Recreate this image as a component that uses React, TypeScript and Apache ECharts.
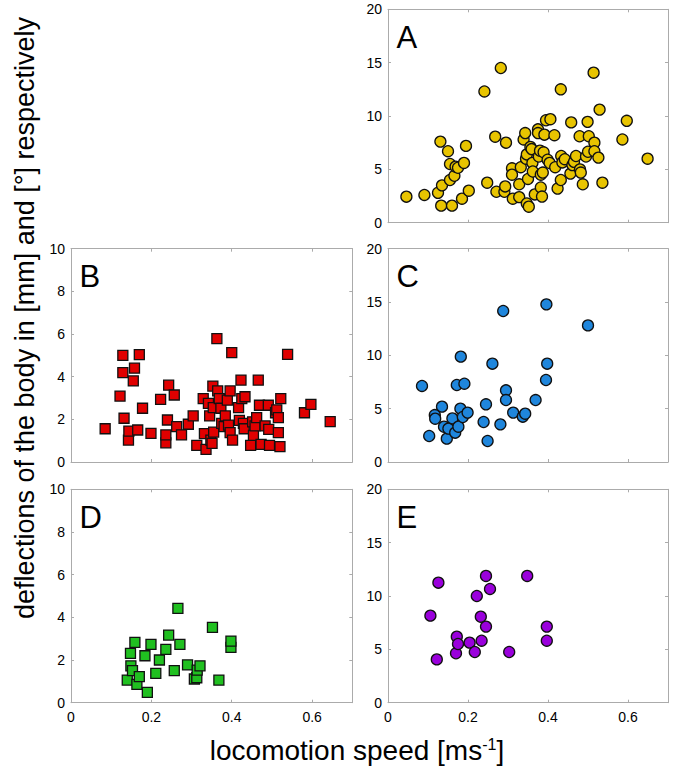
import React, { useEffect, useRef } from "react";
import * as echarts from "echarts";

// Panel A: circles, yellow (speed [m/s], deflection)
const panelA: [number, number][] = [
  [0.046, 2.44], [0.091, 2.6], [0.125, 2.8], [0.131, 7.6], [0.133, 1.6], [0.135, 3.5],
  [0.15, 6.7], [0.155, 4.0], [0.155, 5.5], [0.16, 1.6], [0.166, 4.4], [0.169, 5.25],
  [0.175, 5.15], [0.185, 2.25], [0.19, 5.6], [0.195, 7.2], [0.202, 3.0], [0.241, 12.3],
  [0.248, 3.75], [0.268, 8.06], [0.271, 2.9], [0.282, 14.5], [0.291, 2.9], [0.293, 3.4],
  [0.295, 7.5], [0.31, 5.1], [0.31, 4.5], [0.312, 2.25], [0.328, 2.4], [0.328, 3.6],
  [0.332, 5.2], [0.339, 7.8], [0.343, 8.4], [0.345, 6.0], [0.347, 6.4], [0.347, 1.8],
  [0.35, 4.1], [0.352, 1.5], [0.356, 7.1], [0.359, 6.9], [0.361, 5.6], [0.362, 4.8],
  [0.367, 2.65], [0.375, 8.75], [0.375, 8.4], [0.377, 6.2], [0.38, 6.75], [0.382, 3.3],
  [0.382, 4.5], [0.385, 2.45], [0.387, 4.7], [0.389, 6.6], [0.391, 8.25], [0.395, 9.6],
  [0.399, 5.9], [0.404, 5.6], [0.406, 9.7], [0.416, 8.2], [0.418, 5.2], [0.424, 3.2],
  [0.432, 12.5], [0.432, 4.0], [0.433, 6.25], [0.436, 5.65], [0.442, 5.95], [0.456, 4.6],
  [0.458, 9.4], [0.461, 5.4], [0.465, 5.7], [0.47, 6.25], [0.479, 8.1], [0.48, 5.0],
  [0.482, 4.7], [0.487, 3.6], [0.495, 6.2], [0.499, 9.45], [0.5, 6.65], [0.502, 8.1],
  [0.514, 14.06], [0.516, 7.5], [0.516, 6.7], [0.526, 6.1], [0.529, 10.6], [0.536, 3.75],
  [0.586, 7.8], [0.597, 9.55], [0.649, 6.0],
];

// Panel B: squares, red
const panelB: [number, number][] = [
  [0.085, 1.56], [0.122, 3.09], [0.129, 5.0], [0.129, 4.19], [0.132, 2.05], [0.143, 1.03],
  [0.144, 1.45], [0.155, 3.8], [0.158, 4.4], [0.166, 1.5], [0.17, 5.03], [0.178, 2.52],
  [0.199, 1.34], [0.223, 2.94], [0.236, 0.9], [0.236, 1.27], [0.24, 1.97], [0.243, 3.6],
  [0.257, 3.14], [0.263, 1.66], [0.275, 1.27], [0.292, 1.77], [0.304, 2.16], [0.313, 0.78],
  [0.329, 2.97], [0.332, 1.33], [0.336, 0.59], [0.342, 2.75], [0.345, 2.16], [0.348, 1.03],
  [0.351, 0.875], [0.353, 3.56], [0.354, 2.55], [0.355, 1.4], [0.363, 5.78], [0.365, 3.33],
  [0.369, 2.97], [0.373, 2.52], [0.375, 1.81], [0.381, 1.66], [0.384, 2.16], [0.389, 2.9],
  [0.392, 1.73], [0.396, 3.33], [0.396, 1.38], [0.4, 5.13], [0.402, 1.03], [0.417, 2.55],
  [0.419, 1.95], [0.423, 3.84], [0.425, 2.97], [0.429, 1.81], [0.431, 1.56], [0.433, 3.06],
  [0.447, 0.78], [0.452, 1.88], [0.454, 1.25], [0.458, 1.69], [0.462, 2.08], [0.466, 3.84],
  [0.469, 2.66], [0.473, 0.83], [0.483, 1.69], [0.491, 2.66], [0.492, 1.53], [0.494, 0.78],
  [0.509, 2.31], [0.512, 2.44], [0.516, 2.08], [0.516, 1.38], [0.52, 0.72], [0.522, 2.97],
  [0.539, 5.05], [0.581, 2.31], [0.597, 2.7], [0.645, 1.89],
];

// Panel C: circles, blue
const panelC: [number, number][] = [
  [0.085, 7.13], [0.103, 2.44], [0.117, 4.4], [0.118, 4.06], [0.135, 5.19], [0.14, 3.31],
  [0.147, 2.19], [0.151, 3.13], [0.161, 4.09], [0.168, 2.75], [0.172, 7.22], [0.176, 3.31],
  [0.181, 5.0], [0.182, 9.88], [0.187, 4.22], [0.191, 7.34], [0.199, 4.63], [0.239, 3.75],
  [0.245, 5.41], [0.249, 1.97], [0.261, 9.22], [0.281, 3.53], [0.288, 14.16], [0.295, 6.72],
  [0.295, 5.81], [0.313, 4.63], [0.337, 4.25], [0.343, 4.53], [0.369, 5.81], [0.395, 7.69],
  [0.396, 14.78], [0.398, 9.22], [0.5, 12.81],
];

// Panel D: squares, green
const panelD: [number, number][] = [
  [0.14, 1.06], [0.148, 2.31], [0.149, 1.73], [0.153, 1.5], [0.159, 2.83], [0.164, 0.86],
  [0.17, 1.22], [0.184, 2.2], [0.19, 0.48], [0.199, 2.73], [0.211, 1.375], [0.22, 2.0],
  [0.236, 2.5], [0.243, 3.17], [0.257, 1.5], [0.266, 4.42], [0.271, 2.73], [0.29, 1.77],
  [0.307, 1.11], [0.313, 1.17], [0.314, 1.53], [0.321, 1.73], [0.352, 3.53], [0.368, 1.06],
  [0.398, 2.59], [0.398, 2.89],
];

// Panel E: circles, purple
const panelE: [number, number][] = [
  [0.106, 8.16], [0.122, 4.06], [0.126, 11.25], [0.17, 4.63], [0.172, 6.19], [0.175, 5.5],
  [0.204, 5.63], [0.217, 4.75], [0.222, 10.0], [0.232, 8.06], [0.234, 5.81], [0.245, 11.88],
  [0.245, 7.13], [0.255, 10.66], [0.303, 4.75], [0.348, 11.88], [0.397, 7.13], [0.397, 5.81],
];

const panelLetters = ["A", "B", "C", "D", "E"];
const xTicks = [0, 0.2, 0.4, 0.6];
const yMaxes = [20, 10, 20, 10, 20];
const yIntervals = [5, 2, 5, 2, 5];
const xTitle = "locomotion speed [ms";
const xTitleSup = "-1";
const yTitle = "deflections of the body in [mm] and [°] respectively";

const FONT = "'Liberation Sans', Arial, sans-serif";
const AXC = "#ababab";

export default function App() {
  const ref = useRef<HTMLDivElement>(null);
  useEffect(() => {
    if (!ref.current) return;
    const chart = echarts.init(ref.current, undefined, { renderer: "svg" });

    const grids = [
      { left: 388, top: 9.3, width: 280, height: 213.4 },
      { left: 71, top: 248.7, width: 281.3, height: 213.3 },
      { left: 388, top: 248.7, width: 280, height: 213.3 },
      { left: 71, top: 489.3, width: 281.3, height: 213.4 },
      { left: 388, top: 489.3, width: 280, height: 213.4 },
    ];
    const showX = [false, false, false, true, true];

    const xAxes: any[] = [];
    const yAxes: any[] = [];
    grids.forEach((g, i) => {
      const base = {
        gridIndex: i,
        type: "value",
        splitLine: { show: false },
        axisLine: { show: true, onZero: false, lineStyle: { color: AXC, width: 1 } },
        axisTick: { show: true, inside: true, length: 3, lineStyle: { color: AXC } },
      };
      const xl = {
        ...base,
        min: 0,
        max: 0.7,
        interval: 0.2,
      };
      xAxes.push({
        ...xl,
        position: "bottom",
        axisLabel: {
          show: showX[i],
          showMaxLabel: false,
          color: "#000",
          fontSize: 14,
          fontFamily: FONT,
          margin: 7,
          formatter: (v: number) => {
            const r = Math.round(v * 10) / 10;
            return xTicks.includes(r) ? String(r) : "";
          },
        },
      });
      xAxes.push({ ...xl, position: "top", axisLabel: { show: false } });
      const yl = { ...base, min: 0, max: yMaxes[i], interval: yIntervals[i] };
      yAxes.push({
        ...yl,
        position: "left",
        axisLabel: { show: true, color: "#000", fontSize: 14, fontFamily: FONT, margin: 6 },
      });
      yAxes.push({ ...yl, position: "right", axisLabel: { show: false } });
    });

    const datasets = [panelA, panelB, panelC, panelD, panelE];
    const colors = ["#e8c400", "#e00000", "#1f86dc", "#20c020", "#9a00dc"];
    const symbols = ["circle", "rect", "circle", "rect", "circle"];

    const series = datasets.map((d, i) => ({
      type: "scatter",
      xAxisIndex: 2 * i,
      yAxisIndex: 2 * i,
      data: d,
      symbol: symbols[i],
      symbolSize: symbols[i] === "circle" ? 11 : 10,
      itemStyle: {
        color: colors[i],
        borderColor: "#111",
        borderWidth: 1.3,
        opacity: 1,
      },
      emphasis: { disabled: true },
    }));

    const letterEls = grids.map((g, i) => ({
      type: "text",
      x: g.left + 8.5,
      y: g.top + 28,
      style: {
        text: panelLetters[i],
        fontSize: 31,
        fontFamily: FONT,
        fill: "#000",
        align: "left",
        verticalAlign: "middle",
      },
    }));

    chart.setOption({
      animation: false,
      backgroundColor: "#fff",
      grid: grids.map((g) => ({ ...g, containLabel: false })),
      xAxis: xAxes,
      yAxis: yAxes,
      series,
      graphic: [
        ...letterEls,
        {
          type: "text",
          x: 25,
          y: 318,
          rotation: Math.PI / 2,
          style: {
            text: yTitle,
            fontSize: 27,
            fontFamily: FONT,
            fill: "#000",
            align: "center",
            verticalAlign: "middle",
          },
        },
        {
          type: "text",
          x: 357,
          y: 750,
          style: {
            text: `{a|${xTitle}}{s|${xTitleSup}}{a|]}`,
            align: "center",
            verticalAlign: "middle",
            rich: {
              a: { fontSize: 28, fontFamily: FONT, fill: "#000", color: "#000", verticalAlign: "bottom" },
              s: { fontSize: 16, fontFamily: FONT, fill: "#000", color: "#000", verticalAlign: "top" },
            },
          },
        },
      ],
    });
    return () => chart.dispose();
  }, []);

  return (
    <div
      ref={ref}
      style={{ position: "absolute", left: 0, top: 0, width: 675, height: 770, background: "#fff" }}
    />
  );
}
